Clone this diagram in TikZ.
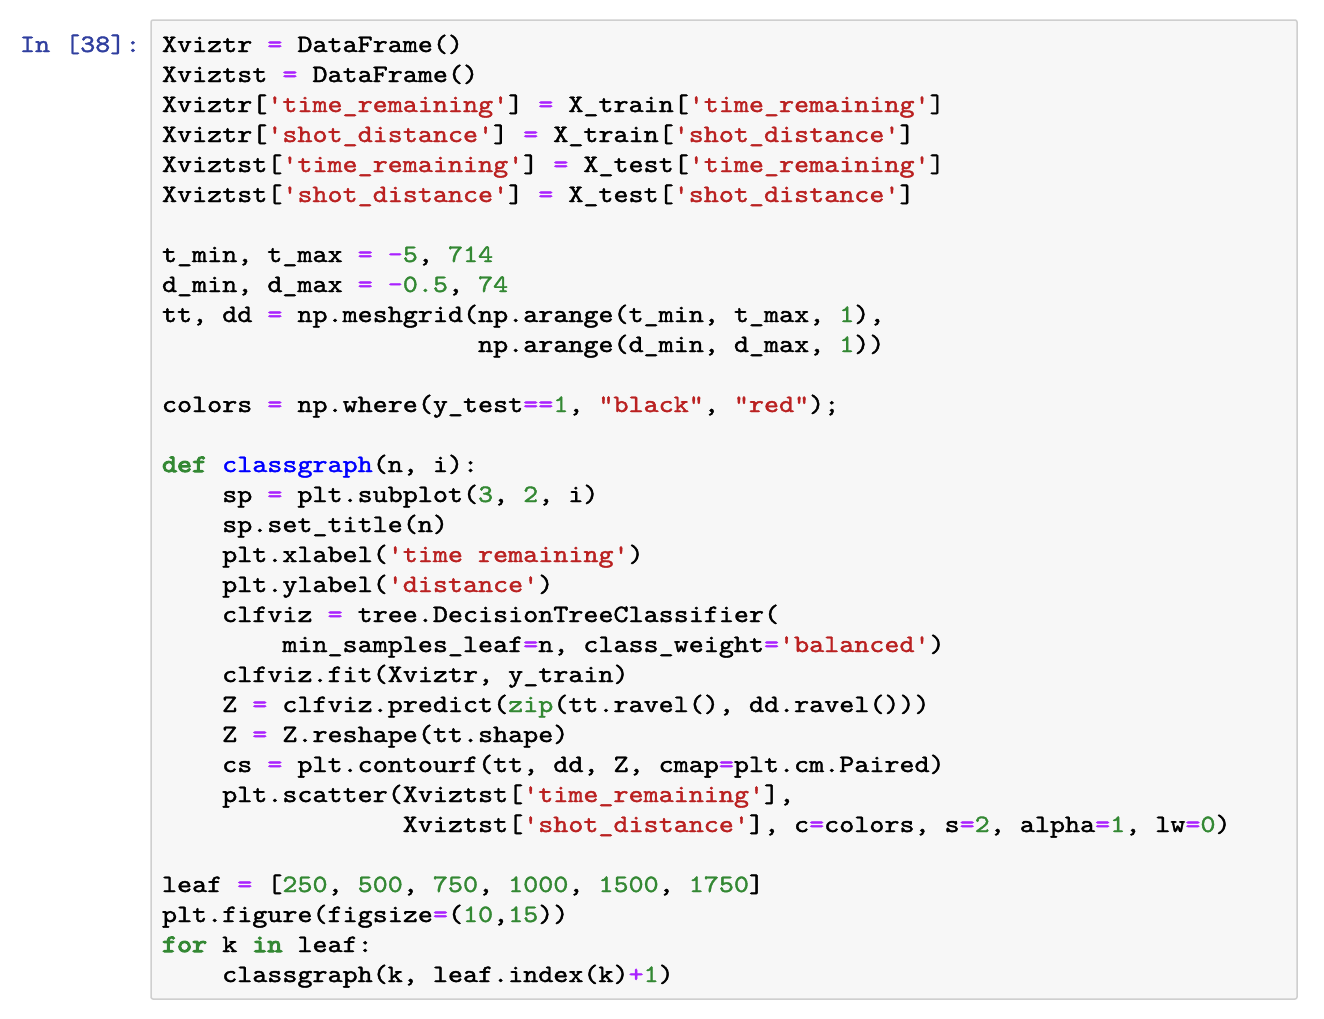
\documentclass[tikz,border=0pt]{standalone}
\usepackage{fontspec}
\setmonofont{lmmono10-regular.otf}[FakeStretch=1.1467, RawFeature={embolden=1.5}]
\newfontfamily\kwfont{lmmono10-regular.otf}[FakeStretch=1.1467, RawFeature={embolden=4}, Ligatures=ResetAll]
\definecolor{cop}{HTML}{AA22FF}
\definecolor{cstr}{HTML}{BA2121}
\definecolor{cnum}{HTML}{338833}
\definecolor{cfn}{HTML}{0000FF}
\definecolor{cprompt}{HTML}{303F9F}
\definecolor{cboxfill}{HTML}{F7F7F7}
\definecolor{cboxdraw}{HTML}{CFCFCF}
\newcommand\Op[1]{\textcolor{cop}{#1}}
\newcommand\St[1]{\textcolor{cstr}{#1}}
\newcommand\Nm[1]{\textcolor{cnum}{#1}}
\newcommand\Kw[1]{{\kwfont\textcolor{cnum}{#1}}}
\newcommand\Fn[1]{\textcolor{cfn}{#1}}
\frenchspacing
\tikzset{
  codeline/.style={anchor=base west, inner sep=0pt, outer sep=0pt, text=black,
    font=\ttfamily\fontsize{25}{30}\selectfont},
  promptline/.style={codeline, text=cprompt},
  cellbox/.style={fill=cboxfill, draw=cboxdraw, line width=1.5pt, rounded corners=2pt}
}
\newcommand\cw{15.05}
\begin{document}
\begin{tikzpicture}[x=1pt,y=-1pt]
\useasboundingbox[fill=white] (0,0) rectangle (1324,1018);
\draw[cellbox] (151,20) rectangle (1297,999);
\node[promptline] (prompt) at (20,52) {In [38]:};
\node[codeline] (l1) at (162,52) {Xviztr \Op{=} DataFrame()};
\node[codeline] (l2) at (162,82) {Xviztst \Op{=} DataFrame()};
\node[codeline] (l3) at (162,112) {Xviztr[\St{'time\_remaining'}] \Op{=} X\_train[\St{'time\_remaining'}]};
\node[codeline] (l4) at (162,142) {Xviztr[\St{'shot\_distance'}] \Op{=} X\_train[\St{'shot\_distance'}]};
\node[codeline] (l5) at (162,172) {Xviztst[\St{'time\_remaining'}] \Op{=} X\_test[\St{'time\_remaining'}]};
\node[codeline] (l6) at (162,202) {Xviztst[\St{'shot\_distance'}] \Op{=} X\_test[\St{'shot\_distance'}]};
\node[codeline] (l8) at (162,262) {t\_min, t\_max \Op{=} \Op{-}\Nm{5}, \Nm{714}};
\node[codeline] (l9) at (162,292) {d\_min, d\_max \Op{=} \Op{-}\Nm{0.5}, \Nm{74}};
\node[codeline] (l10) at (162,322) {tt, dd \Op{=} np.meshgrid(np.arange(t\_min, t\_max, \Nm{1}),};
\node[codeline] (l11) at (162+21*\cw,352) {np.arange(d\_min, d\_max, \Nm{1}))};
\node[codeline] (l13) at (162,412) {colors \Op{=} np.where(y\_test\Op{==}\Nm{1}, \St{"black"}, \St{"red"});};
\node[codeline] (l15) at (162,472) {\Kw{def} \Fn{classgraph}(n, i):};
\node[codeline] (l16) at (162+4*\cw,502) {sp \Op{=} plt.subplot(\Nm{3}, \Nm{2}, i)};
\node[codeline] (l17) at (162+4*\cw,532) {sp.set\_title(n)};
\node[codeline] (l18) at (162+4*\cw,562) {plt.xlabel(\St{'time remaining'})};
\node[codeline] (l19) at (162+4*\cw,592) {plt.ylabel(\St{'distance'})};
\node[codeline] (l20) at (162+4*\cw,622) {clfviz \Op{=} tree.DecisionTreeClassifier(};
\node[codeline] (l21) at (162+8*\cw,652) {min\_samples\_leaf\Op{=}n, class\_weight\Op{=}\St{'balanced'})};
\node[codeline] (l22) at (162+4*\cw,682) {clfviz.fit(Xviztr, y\_train)};
\node[codeline] (l23) at (162+4*\cw,712) {Z \Op{=} clfviz.predict(\Nm{zip}(tt.ravel(), dd.ravel()))};
\node[codeline] (l24) at (162+4*\cw,742) {Z \Op{=} Z.reshape(tt.shape)};
\node[codeline] (l25) at (162+4*\cw,772) {cs \Op{=} plt.contourf(tt, dd, Z, cmap\Op{=}plt.cm.Paired)};
\node[codeline] (l26) at (162+4*\cw,802) {plt.scatter(Xviztst[\St{'time\_remaining'}],};
\node[codeline] (l27) at (162+16*\cw,832) {Xviztst[\St{'shot\_distance'}], c\Op{=}colors, s\Op{=}\Nm{2}, alpha\Op{=}\Nm{1}, lw\Op{=}\Nm{0})};
\node[codeline] (l29) at (162,892) {leaf \Op{=} [\Nm{250}, \Nm{500}, \Nm{750}, \Nm{1000}, \Nm{1500}, \Nm{1750}]};
\node[codeline] (l30) at (162,922) {plt.figure(figsize\Op{=}(\Nm{10},\Nm{15}))};
\node[codeline] (l31) at (162,952) {\Kw{for} k \Kw{in} leaf:};
\node[codeline] (l32) at (162+4*\cw,982) {classgraph(k, leaf.index(k)\Op{+}\Nm{1})};
\end{tikzpicture}
\end{document}
